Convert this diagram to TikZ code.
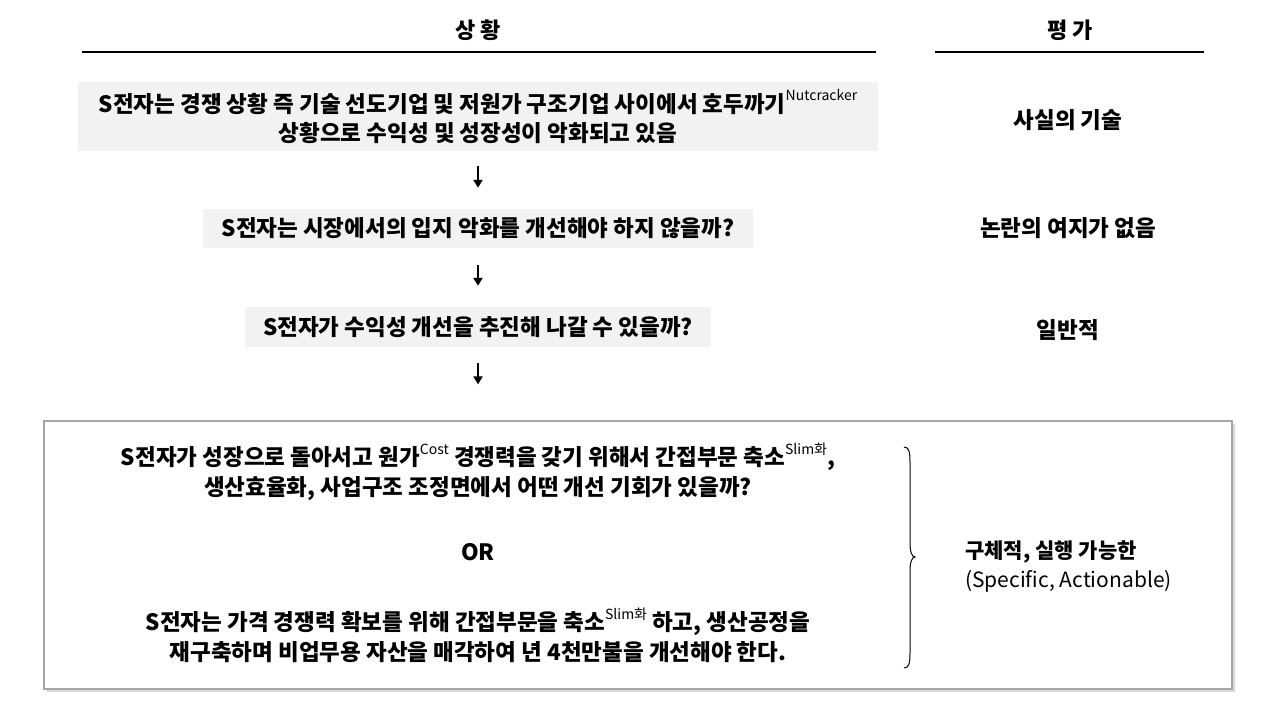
\documentclass[tikz,border=0pt]{standalone}
\usepackage{fontspec}
\setmainfont{Noto Sans CJK KR}
\usetikzlibrary{arrows.meta,shadows}
\definecolor{boxgray}{HTML}{F2F2F2}
\definecolor{framegray}{HTML}{A6A6A6}
\definecolor{shadowcol}{HTML}{DDD9CC}
\newcommand\supx[1]{\raisebox{0.5em}{\fontsize{14}{14}\selectfont\mdseries #1}}
\begin{document}
\begin{tikzpicture}[x=1pt,y=-1pt,
  txt/.style={font=\fontsize{22.5}{30}\selectfont\bfseries, align=center, inner sep=0pt},
  evaltxt/.style={font=\fontsize{22.5}{28}\selectfont\bfseries, align=center, inner sep=0pt},
  headtxt/.style={font=\fontsize{22}{28}\selectfont\bfseries, align=center, inner sep=0pt},
  graybox/.style={fill=boxgray, draw=none, inner sep=0pt, align=center, font=\fontsize{22.5}{29}\selectfont\bfseries},
  rule/.style={line width=1.2pt},
  arr/.style={line width=2.2pt, -{Triangle[length=8pt,width=9pt]}},
  bigbox/.style={draw=framegray, line width=1.2pt, fill=white, inner sep=0pt,
     drop shadow={shadow xshift=3pt, shadow yshift=-3pt, fill=shadowcol, opacity=1}},
]
\useasboundingbox (0,0) rectangle (1280,704);
\fill[white] (0,0) rectangle (1280,704);

% headers
\node[headtxt] (h1) at (478,30) {상 황};
\node[headtxt] (h2) at (1070,30) {평 가};
\coordinate (r1a) at (82,52); \coordinate (r1b) at (876,52);
\coordinate (r2a) at (935,52); \coordinate (r2b) at (1204,52);
\draw[rule] (r1a) -- (r1b);
\draw[rule] (r2a) -- (r2b);

% situation boxes
\node[graybox, minimum width=800pt, minimum height=69pt] (b1) at (478,116.5)
  {S전자는 경쟁 상황 즉 기술 선도기업 및 저원가 구조기업 사이에서 호두까기\supx{Nutcracker}\\상황으로 수익성 및 성장성이 악화되고 있음};
\node[graybox, minimum width=550pt, minimum height=39pt] (b2) at (478,228.5)
  {S전자는 시장에서의 입지 악화를 개선해야 하지 않을까?};
\node[graybox, minimum width=466pt, minimum height=40pt] (b3) at (478,327)
  {S전자가 수익성 개선을 추진해 나갈 수 있을까?};

% bottom box
\node[bigbox, minimum width=1188pt, minimum height=268pt] (b4) at (638,555) {};
\node[txt] (q1) at (478,472)
  {S전자가 성장으로 돌아서고 원가\supx{Cost} 경쟁력을 갖기 위해서 간접부문 축소\supx{Slim화},\\생산효율화, 사업구조 조정면에서 어떤 개선 기회가 있을까?};
\node[txt] (or) at (478,552) {OR};
\node[txt] (q2) at (478,635)
  {S전자는 가격 경쟁력 확보를 위해 간접부문을 축소\supx{Slim화} 하고, 생산공정을\\재구축하며 비업무용 자산을 매각하여 년 4천만불을 개선해야 한다.};

% arrows
\draw[arr, shorten <=15pt, shorten >=21pt] (b1.south) -- (b2.north);
\draw[arr, shorten <=17pt, shorten >=21pt] (b2.south) -- (b3.north);
\draw[arr, shorten <=16pt, shorten >=36pt] (b3.south) -- (b4.north -| b3.south);

% brace
\coordinate (bt) at (904,447);
\coordinate (bb) at (904,668);
\draw[line width=1pt] (bt) .. controls (909,447) and (910,452) .. (910,462)
  -- (910,543) .. controls (910,552) and (912,557) .. (915,557)
  .. controls (912,557) and (910,562) .. (910,571)
  -- (910,653) .. controls (910,663) and (909,668) .. (bb);

% evaluation column
\node[evaltxt] (e1) at (1068,120) {사실의 기술};
\node[evaltxt] (e2) at (1068,228) {논란의 여지가 없음};
\node[evaltxt] (e3) at (1068,330) {일반적};
\node[anchor=west, inner sep=0pt, font=\fontsize{21}{26}\selectfont\bfseries] (e4) at (965,552) {구체적, 실행 가능한};
\node[anchor=west, inner sep=0pt, font=\fontsize{21}{26}\selectfont] (e5) at (965,581) {(Specific, Actionable)};
\end{tikzpicture}
\end{document}
